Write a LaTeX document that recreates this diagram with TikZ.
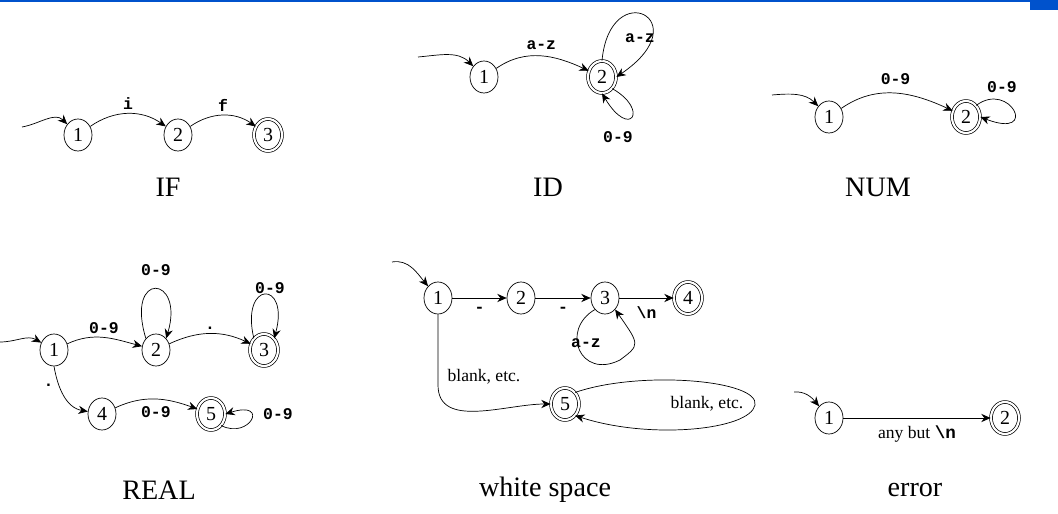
\documentclass[tikz,border=0pt]{standalone}
\usepackage{fontspec}
\setmainfont{Liberation Serif}
\setmonofont{Liberation Mono}
\usetikzlibrary{shapes.geometric,arrows.meta}
\begin{document}
\begin{tikzpicture}[x=0.03cm,y=-0.03cm,semithick,
  st/.style={draw,ellipse,minimum width=28*0.03cm,minimum height=32*0.03cm,inner sep=0pt,font=\fontsize{17}{17}\selectfont},
  acc/.style={st,double,double distance=1.8pt},
  tr/.style={-{Stealth[length=8pt,width=7pt]}},
  lb/.style={font=\ttfamily\bfseries\fontsize{14}{14}\selectfont},
  lr/.style={font=\fontsize{15}{15}\selectfont},
  captxt/.style={font=\fontsize{24}{24}\selectfont}]
\useasboundingbox (0,0) rectangle (1058,514);
\fill[blue!60!cyan!80!black] (0,0) rectangle (1058,2.5);
\fill[blue!60!cyan!80!black] (1030,0) rectangle (1058,10);
% IF
\node[st] (a1) at (78,135) {1};
\node[st] (a2) at (178,135) {2};
\node[acc] (a3) at (268,135) {3};
\coordinate (a0) at (22,127);
\draw[tr] (a0) to[out=10,in=135] (a1);
\draw[tr] (a1) to[out=35,in=145] node[lb,above] {i} (a2);
\draw[tr] (a2) to[out=35,in=145] node[lb,above] {f} (a3);
\node[captxt] (capa) at (168,187) {IF};
% ID
\node[st] (b1) at (484,77) {1};
\node[acc] (b2) at (602,77) {2};
\coordinate (b0) at (418,57);
\draw[tr] (b0) to[out=5,in=135] (b1);
\draw[tr] (b1) to[out=35,in=155] node[lb,above=2pt] {a-z} (b2);
\draw[tr] (b2.north) .. controls (610,-25) and (700,20) .. (b2.east);
\node[lb] (azl) at (640,38) {a-z};
\draw[tr] (b2.south east) .. controls (650,110) and (630,140) .. (b2.south);
\node[lb] (nl) at (618,137) {0-9};
\node[captxt] (capb) at (548,187) {ID};
% NUM
\node[st] (c1) at (829,117) {1};
\node[acc] (c2) at (966,117) {2};
\coordinate (c0) at (772,95);
\draw[tr] (c0) to[out=5,in=135] (c1);
\draw[tr] (c1) to[out=35,in=155] node[lb,above=4pt] {0-9} (c2);
\draw[tr] (c2.north east) .. controls (1010,80) and (1040,140) .. (c2.east);
\node[lb] (nl2) at (1002,87) {0-9};
\node[captxt] (capc) at (878,187) {NUM};
% REAL
\node[st] (d1) at (54,350) {1};
\node[st] (d2) at (156,350) {2};
\node[acc] (d3) at (264,350) {3};
\node[st] (d4) at (102,414) {4};
\node[acc] (d5) at (211,414) {5};
\coordinate (d0) at (0,342);
\draw[tr] (d0) to[out=0,in=150] (d1);
\draw[tr] (d1) to[out=25,in=165] node[lb,above] {0-9} (d2);
\draw[tr] (d2.north west) .. controls (125,270) and (185,275) .. (d2.north east);
\node[lb] (r1) at (156,270) {0-9};
\draw[tr] (d2) to[out=25,in=155] node[lb,above] {.} (d3);
\draw[tr] (d3.north west) .. controls (240,280) and (290,280) .. (d3.north east);
\node[lb] (r2) at (270,288) {0-9};
\draw[tr] (d1.south) to[out=-80,in=170] node[lb,left=1pt,pos=0.3] {.} (d4);
\draw[tr] (d4) to[out=25,in=160] node[lb,below=3pt] {0-9} (d5);
\draw[tr] (d5.south east) .. controls (250,440) and (270,400) .. (d5.east);
\node[lb] (r3) at (278,414) {0-9};
\node[captxt] (capd) at (159,490) {REAL};
% white space
\node[st] (e1) at (438,298) {1};
\node[st] (e2) at (521,298) {2};
\node[st] (e3) at (605,298) {3};
\node[acc] (e4) at (688,298) {4};
\node[acc] (e5) at (565,404) {5};
\coordinate (e0) at (392,262);
\draw[tr] (e0) to[out=10,in=130] (e1);
\draw[tr] (e1) -- node[lb,below=4pt] {-} (e2);
\draw[tr] (e2) -- node[lb,below=4pt] {-} (e3);
\draw[tr] (e3) -- node[lb,below=4pt] {\textbackslash n} (e4);
\draw[tr] (e3.south west) .. controls (560,330) and (580,380) .. (620,360) .. controls (640,345) .. (e3.south east);
\node[lb] (azw) at (586,343) {a-z};
\draw[tr] (e1.south) -- (438,385) to[out=-90,in=180] (e5.west);
\node[lr] (bl1) at (484,377) {blank, etc.};
\draw[tr] (e5.north east) .. controls (640,370) and (760,380) .. (755,405) .. controls (750,430) and (650,440) .. (e5.south east);
\node[lr] (bl2) at (707,404) {blank, etc.};
\node[captxt] (cape) at (545,490) {white space};
% error
\node[st] (f1) at (829,418) {1};
\node[acc] (f2) at (1005,418) {2};
\coordinate (f0) at (794,392);
\draw[tr] (f0) to[out=5,in=130] (f1);
\draw[tr] (f1) -- node[below=3pt,lr] {any but \texttt{\bfseries\textbackslash n}} (f2);
\node[captxt] (capf) at (915,490) {error};
\end{tikzpicture}
\end{document}
